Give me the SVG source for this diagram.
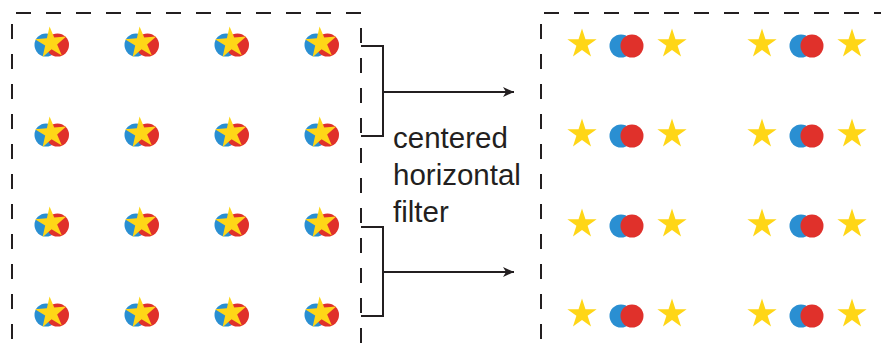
<svg xmlns="http://www.w3.org/2000/svg" xmlns:xlink="http://www.w3.org/1999/xlink" width="881" height="348" viewBox="0 0 881 348">
<style>
.dash{stroke:#231f20;stroke-width:2;stroke-dasharray:15 15;fill:none}
.ln{stroke:#231f20;stroke-width:2;fill:none}
.b{fill:#2a8fd2}
.r{fill:#e0312b}
.s{fill:#ffd617}
.t{font-family:"Liberation Sans",Arial,sans-serif;font-size:29.5px;fill:#231f20}
</style>
<defs>
<path id="star" d="M0,-15.4 L3.46,-4.76 L14.65,-4.76 L5.6,1.82 L9.05,12.46 L0,5.88 L-9.05,12.46 L-5.6,1.82 L-14.65,-4.76 L-3.46,-4.76 Z"/>
<g id="combo">
<circle class="b" cx="-5" cy="2" r="11.5"/>
<circle class="r" cx="6.5" cy="2" r="11.5"/>
<use href="#star" class="s" transform="rotate(-5) scale(1.07)"/>
</g>
<g id="pair">
<circle class="b" cx="0" cy="0" r="11.5"/>
<circle class="r" cx="11" cy="0" r="11.5"/>
</g>
<marker id="ah" markerWidth="12" markerHeight="10" refX="11" refY="5" orient="auto" markerUnits="userSpaceOnUse">
<path d="M0,0 L11,5 L0,10 L3,5 Z" fill="#231f20"/>
</marker>
</defs>
<g id="left-box">
<line class="dash" x1="16" y1="13" x2="361" y2="13"/>
<line class="dash" x1="12" y1="24" x2="12" y2="348"/>
<line class="dash" x1="361" y1="28" x2="361" y2="348"/>
</g>
<g id="right-box">
<line class="dash" x1="544" y1="13" x2="881" y2="13"/>
<line class="dash" x1="541" y1="24" x2="541" y2="348"/>
</g>
<g id="left-grid">
<use href="#combo" x="51" y="43"/><use href="#combo" x="141" y="43"/><use href="#combo" x="231" y="43"/><use href="#combo" x="321" y="43"/>
<use href="#combo" x="51" y="133"/><use href="#combo" x="141" y="133"/><use href="#combo" x="231" y="133"/><use href="#combo" x="321" y="133"/>
<use href="#combo" x="51" y="223"/><use href="#combo" x="141" y="223"/><use href="#combo" x="231" y="223"/><use href="#combo" x="321" y="223"/>
<use href="#combo" x="51" y="313"/><use href="#combo" x="141" y="313"/><use href="#combo" x="231" y="313"/><use href="#combo" x="321" y="313"/>
</g>
<g id="right-grid">
<g id="row1">
<use href="#star" class="s" x="582" y="44"/><use href="#pair" x="621" y="46"/><use href="#star" class="s" x="672" y="44"/>
<use href="#star" class="s" x="762" y="44"/><use href="#pair" x="801" y="46"/><use href="#star" class="s" x="852" y="44"/>
</g>
<use href="#row1" y="90"/>
<use href="#row1" y="180"/>
<use href="#row1" y="270"/>
</g>
<g id="connectors">
<path class="ln" d="M361,46 H383 V136 H361"/>
<line class="ln" x1="383" y1="92" x2="514" y2="92" marker-end="url(#ah)"/>
<path class="ln" d="M361,227 H383 V316 H361"/>
<line class="ln" x1="383" y1="272" x2="514" y2="272" marker-end="url(#ah)"/>
</g>
<g id="label">
<text class="t" x="393" y="148">centered</text>
<text class="t" x="393" y="185">horizontal</text>
<text class="t" x="393" y="222">filter</text>
</g>
</svg>
